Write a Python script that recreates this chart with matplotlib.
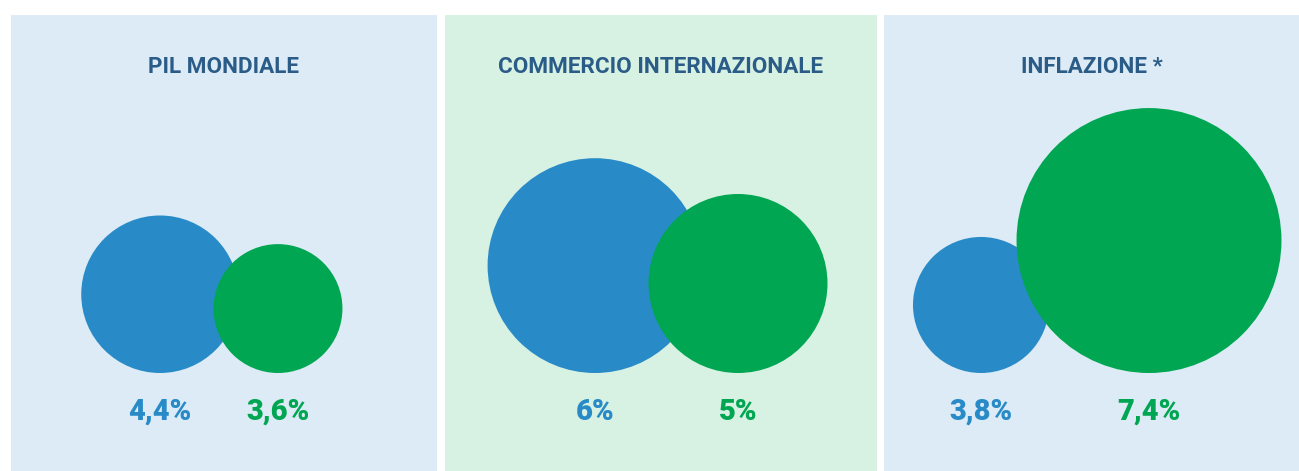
import matplotlib.pyplot as plt
from matplotlib.patches import Circle, Rectangle

# data
titles = ["PIL MONDIALE", "COMMERCIO INTERNAZIONALE", "INFLAZIONE *"]
blue_values = [4.4, 6.0, 3.8]
green_values = [3.6, 5.0, 7.4]
blue_labels = ["4,4%", "6%", "3,8%"]
green_labels = ["3,6%", "5%", "7,4%"]

# layout (pixels)
W, H = 1299, 471
panels = [(11, 437), (445, 877), (884, 1299)]
panel_colors = ["#dcebf5", "#d7f1e2", "#dcebf5"]
blue_x = [160, 595, 981]
green_x = [278, 738, 1149]
base_y = 373
scale = 17.9  # px of radius per unit

c_blue = "#288bc8"
c_green = "#00a651"
c_title = "#2b5c88"

plt.rcParams['font.family'] = ['Roboto', 'DejaVu Sans']

fig = plt.figure(figsize=(W / 100, H / 100), dpi=100)
ax = fig.add_axes([0, 0, 1, 1])
ax.set_xlim(0, W)
ax.set_ylim(H, 0)
ax.axis('off')

for i in range(3):
    x0, x1 = panels[i]
    ax.add_patch(Rectangle((x0, 15), x1 - x0, H - 15, color=panel_colors[i], lw=0))
    ax.text((x0 + x1) / 2, 67, titles[i], ha='center', va='center',
            fontsize=16.2, fontweight='bold', color=c_title)

    rb = blue_values[i] * scale
    rg = green_values[i] * scale
    ax.add_patch(Circle((blue_x[i], base_y - rb), rb, color=c_blue, lw=0))
    ax.add_patch(Circle((green_x[i], base_y - rg), rg, color=c_green, lw=0))

    ax.text(blue_x[i], 412, blue_labels[i], ha='center', va='center',
            fontsize=21, fontweight='heavy', color=c_blue)
    ax.text(green_x[i], 412, green_labels[i], ha='center', va='center',
            fontsize=21, fontweight='heavy', color=c_green)

fig.savefig("out.png", dpi=100)
